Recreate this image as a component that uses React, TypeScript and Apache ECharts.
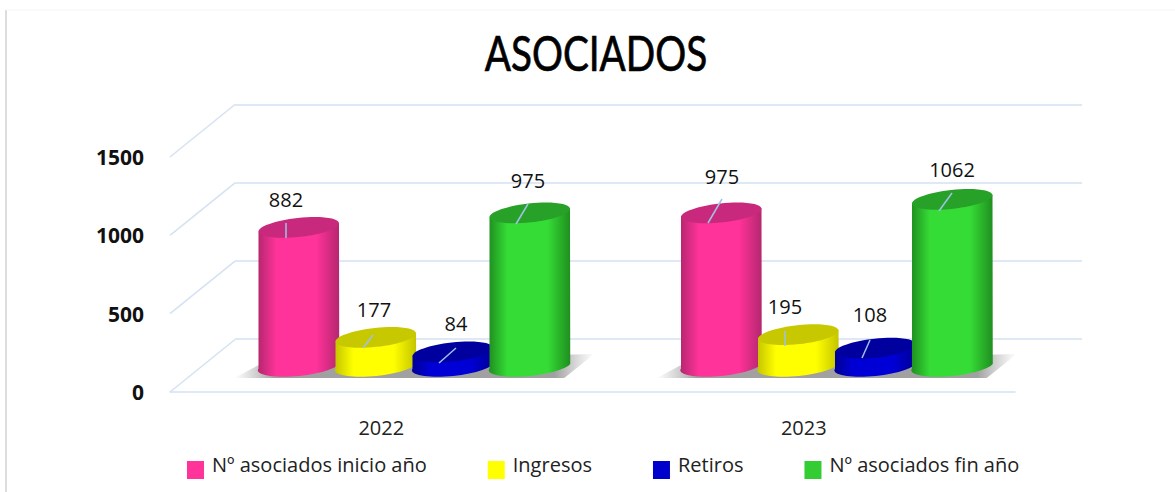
import React, { useEffect, useRef } from "react";
import * as echarts from "echarts";

const categories = ["2022", "2023"];
const inicio = [882, 975];
const ingresos = [177, 195];
const retiros = [84, 108];
const fin = [975, 1062];
const yTicks = [0, 500, 1000, 1500];

const FONT = "'Open Sans', sans-serif";
const GRID_LINE = "#D5E2F3";
const DEPTH_X = 65;
const DEPTH_Y = -52.5;
const BAR_STEP = 77;
const RX = 40.5;
const RY = 9.5;
const TILT = 6.3;
// legend swatch sits in the lower part of a taller icon box, so the label centres above it
const LEGEND_ICON = "path://M0 0L17 0L17 0.01L0 0.01ZM0 12L17 12L17 30L0 30Z";

// leader/label placement relative to the top centre of each cylinder: [labelDx, labelDy, fromDx, fromDy, toDx, toDy]
const inicioLeaders = [[-12.75, -27.4, -12.75, -4.4, -12.75, 10.6], [0.75, -35.9, 0.75, -13.9, -13.25, 10.1]];
const ingresosLeaders = [[-1.75, -26.4, -2.75, -2.4, -12.75, 10.6], [-13.25, -26.6, -13.25, -3.6, -13.25, 11.4]];
const retirosLeaders = [[3.25, -26.9, 3.25, -3.9, -13.75, 11.1], [-5.25, -32.2, -5.25, -8.2, -13.25, 9.8]];
const finLeaders = [[-1.75, -31.9, -1.75, -8.9, -13.75, 11.1], [-0.25, -29.3, -0.25, -6.3, -13.25, 11.7]];

type Palette = { legend: string; edge: string; mid: string; top: string };
const pink: Palette = { legend: "#FF3399", edge: "#B5266F", mid: "#FF3399", top: "#C8297C" };
const yellow: Palette = { legend: "#FFFF00", edge: "#C4C400", mid: "#FFFF00", top: "#C8C800" };
const blue: Palette = { legend: "#0000CC", edge: "#000094", mid: "#0000D6", top: "#00009E" };
const green: Palette = { legend: "#33CC33", edge: "#1F8F1F", mid: "#36DC36", top: "#27A127" };

function cylinderSeries(name: string, values: number[], pal: Palette, pos: number, leaders: number[][]) {
  return {
    name,
    type: "custom",
    xAxisIndex: 2,
    yAxisIndex: 2,
    itemStyle: { color: pal.legend },
    encode: { x: 0, y: 1 },
    data: values.map((v, i) => [i, v]),
    renderItem: (params: any, api: any) => {
      const idx = api.value(0);
      const val = api.value(1);
      const i = params.dataIndex;
      const top = api.coord([idx, val]);
      const base = api.coord([idx, 0]);
      const cx = top[0] + (pos - 1.5) * BAR_STEP;
      const t = (TILT * Math.PI) / 180;
      const ex = RX * Math.cos(t);
      const ey = RX * Math.sin(t);
      const d = [
        `M${cx - ex} ${top[1] + ey}`,
        `L${cx - ex} ${base[1] + ey - 1}`,
        `A${RX} ${RY} ${-TILT} 0 0 ${cx + ex} ${base[1] - ey - 1}`,
        `L${cx + ex} ${top[1] - ey}`,
        "Z",
      ].join(" ");
      const L = leaders[i];
      return {
        type: "group",
        children: [
          {
            type: "path",
            shape: { pathData: d },
            style: {
              fill: new echarts.graphic.LinearGradient(0, 0, 1, 0, [
                { offset: 0, color: pal.edge },
                { offset: 0.23, color: pal.mid },
                { offset: 0.72, color: pal.mid },
                { offset: 1, color: pal.edge },
              ]),
            },
          },
          {
            type: "ellipse",
            x: cx,
            y: top[1],
            rotation: t,
            shape: { cx: 0, cy: 0, rx: RX, ry: RY },
            style: { fill: pal.top },
          },
          {
            type: "line",
            shape: { x1: cx + L[2], y1: top[1] + L[3], x2: cx + L[4], y2: top[1] + L[5] },
            style: { stroke: "#9DC3E6", lineWidth: 1.5 },
          },
          {
            type: "text",
            x: cx + L[0],
            y: top[1] + L[1] - 1,
            style: {
              text: String(val),
              fill: "#111111",
              fontSize: 20,
              fontFamily: FONT,
              align: "center",
              verticalAlign: "middle",
            },
          },
        ],
      };
    },
  };
}

export default function App() {
  const ref = useRef<HTMLDivElement>(null);
  useEffect(() => {
    document.body.style.margin = "0";
    const chart = echarts.init(ref.current!, undefined, { renderer: "svg" });
    const hiddenX = { type: "category", data: categories, show: false };
    const hiddenY = { type: "value", min: 0, max: 1500, interval: 500, show: false };
    chart.setOption({
      animation: false,
      backgroundColor: "#FFFFFF",
      graphic: [
        { type: "line", shape: { x1: 6, y1: 10, x2: 6, y2: 492 }, style: { stroke: "#D2D2D2", lineWidth: 1.5 } },
        { type: "line", shape: { x1: 6, y1: 10, x2: 1175, y2: 10 }, style: { stroke: "#F5F5F5", lineWidth: 1 } },
        {
          type: "text",
          x: 596,
          y: 52,
          scaleX: 0.79,
          style: {
            text: "ASOCIADOS",
            fill: "#000000",
            stroke: "#000000",
            lineWidth: 0.7,
            fontSize: 49,
            fontFamily: "Lato, sans-serif",
            align: "center",
            verticalAlign: "middle",
          },
        },
      ],
      legend: {
        data: ["Nº asociados inicio año", "Ingresos", "Retiros", "Nº asociados fin año"],
        left: 187,
        top: 449,
        padding: 0,
        itemWidth: 17,
        itemHeight: 30,
        itemGap: 61,
        icon: LEGEND_ICON,
        selectedMode: false,
        textStyle: { color: "#222222", fontFamily: FONT, fontSize: 20, padding: [0, 0, 0, 3] },
      },
      grid: [
        { left: 170, right: 160, top: 157, height: 235 },
        { left: 235, right: 93, top: 105, height: 234 },
        { left: 203, right: 127, top: 131, height: 234 },
      ],
      xAxis: [
        {
          type: "category",
          data: categories,
          axisLine: { lineStyle: { color: GRID_LINE, width: 1.5 } },
          axisTick: { show: false },
          axisLabel: { color: "#222222", fontFamily: FONT, fontSize: 20, margin: 25 },
        },
        { ...hiddenX, gridIndex: 1 },
        { ...hiddenX, gridIndex: 2 },
      ],
      yAxis: [
        {
          type: "value",
          min: 0,
          max: 1500,
          interval: 500,
          axisLine: { show: false },
          axisTick: { show: false },
          splitLine: { show: false },
          axisLabel: {
            color: "#111111",
            fontFamily: FONT,
            fontWeight: "bold",
            fontSize: 21,
            margin: 26,
            padding: [0, 0, 5, 0],
            formatter: (v: number) => String(v),
          },
        },
        {
          type: "value",
          gridIndex: 1,
          min: 0,
          max: 1500,
          interval: 500,
          axisLine: { show: false },
          axisTick: { show: false },
          axisLabel: { show: false },
          splitLine: { show: true, lineStyle: { color: GRID_LINE, width: 1.5 } },
        },
        { ...hiddenY, gridIndex: 2 },
      ],
      series: [
        {
          type: "custom",
          xAxisIndex: 0,
          yAxisIndex: 0,
          silent: true,
          data: yTicks.map((v) => [0, v]),
          encode: { x: 0, y: 1 },
          renderItem: (params: any, api: any) => {
            const p = api.coord([0, api.value(1)]);
            const x0 = params.coordSys.x;
            return {
              type: "line",
              shape: { x1: x0, y1: p[1], x2: x0 + DEPTH_X, y2: p[1] + DEPTH_Y },
              style: { stroke: GRID_LINE, lineWidth: 1.5 },
            };
          },
        },
        {
          type: "custom",
          xAxisIndex: 2,
          yAxisIndex: 2,
          silent: true,
          data: categories.map((_, i) => [i, 0]),
          encode: { x: 0, y: 1 },
          renderItem: (_: any, api: any) => {
            const p = api.coord([api.value(0), 0]);
            return {
              type: "polygon",
              shape: {
                points: [
                  [p[0] - 180, p[1] + 13],
                  [p[0] - 150, p[1] - 3],
                  [p[0] + 180, p[1] - 11],
                  [p[0] + 150, p[1] + 13],
                ],
              },
              style: {
                fill: new echarts.graphic.LinearGradient(0, 0, 1, 0, [
                  { offset: 0, color: "rgba(170,170,170,0)" },
                  { offset: 0.11, color: "rgba(150,150,150,0.9)" },
                  { offset: 0.89, color: "rgba(150,150,150,0.9)" },
                  { offset: 1, color: "rgba(170,170,170,0)" },
                ]),
              },
            };
          },
        },
        cylinderSeries("Nº asociados inicio año", inicio, pink, 0, inicioLeaders),
        cylinderSeries("Ingresos", ingresos, yellow, 1, ingresosLeaders),
        cylinderSeries("Retiros", retiros, blue, 2, retirosLeaders),
        cylinderSeries("Nº asociados fin año", fin, green, 3, finLeaders),
      ],
    });
    return () => chart.dispose();
  }, []);
  return <div ref={ref} style={{ width: 1175, height: 492 }} />;
}
